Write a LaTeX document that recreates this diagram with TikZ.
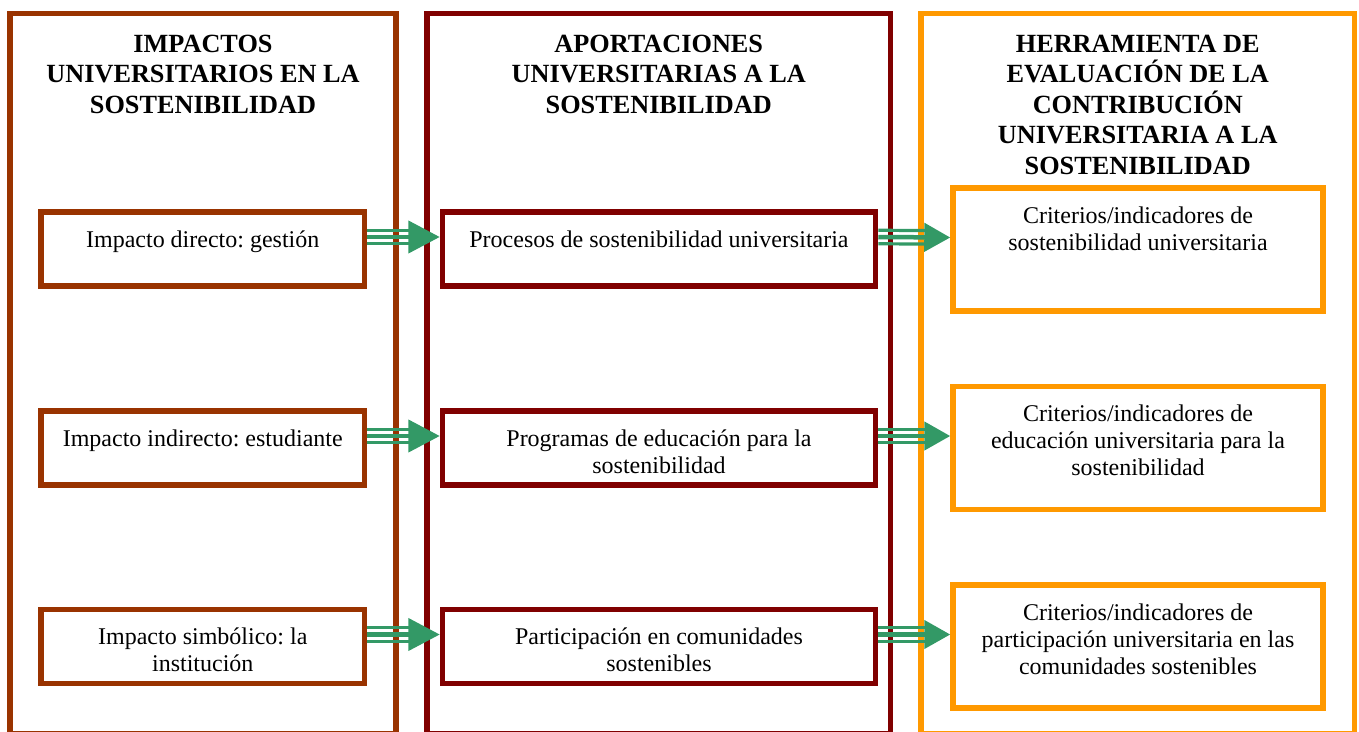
\documentclass[tikz,border=0pt]{standalone}
\usepackage{fontspec}
\setmainfont{Liberation Serif}
\frenchspacing
\usetikzlibrary{arrows.meta}

\definecolor{impacto}{HTML}{993300}
\definecolor{aporte}{HTML}{800000}
\definecolor{herram}{HTML}{FF9900}
\definecolor{verde}{HTML}{339966}

% text of a box, set from the top
\newcommand{\celda}[3]{\parbox[c][#1][t]{#2}{\centering\rule{0pt}{35pt}#3}}

\tikzset{
  marco/.style={line width=5.5pt},
  titulo/.style={anchor=north, inner sep=0pt, align=center,
    font=\bfseries\fontsize{26.25}{30.5}\selectfont},
  caja/.style={draw=#1, line width=5.5pt, inner sep=0pt,
    font=\fontsize{24}{27}\selectfont},
  flecha/.style 2 args={draw=verde, line width=4.5pt, -{Triangle[length=#1,width=#2]},
    preaction={draw=verde, -, line width=3.2pt, shorten >=#1-4pt, transform canvas={yshift=6.75pt}},
    preaction={draw=verde, -, line width=3.2pt, shorten >=#1-4pt, transform canvas={yshift=-6.75pt}}}
}

\begin{document}
\begin{tikzpicture}[x=1pt,y=-1pt]
	\useasboundingbox (0,0) rectangle (1359,731);
	\clip (0,0) rectangle (1359,731);

	% columnas
	\draw[marco, draw=impacto] (10,13.3) rectangle (396,734);
	\draw[marco, draw=aporte] (427,13.3) rectangle (890.5,734);
	\draw[marco, draw=herram] (921,13.3) rectangle (1354.5,734);

	\node[titulo] (t1) at (203,32) {\rule{0pt}{20pt}IMPACTOS\\UNIVERSITARIOS EN LA\\SOSTENIBILIDAD};
	\node[titulo] (t2) at (658.75,32) {\rule{0pt}{20pt}APORTACIONES\\UNIVERSITARIAS A LA\\SOSTENIBILIDAD};
	\node[titulo] (t3) at (1137.75,32) {\rule{0pt}{20pt}HERRAMIENTA DE\\EVALUACIÓN DE LA\\CONTRIBUCIÓN\\UNIVERSITARIA A LA\\SOSTENIBILIDAD};

	% impactos
	\node[caja=impacto] (i1) at (202.75,249) {\celda{74pt}{323.5pt}{Impacto directo: gestión}};
	\node[caja=impacto] (i2) at (202.75,448) {\celda{74pt}{323.5pt}{Impacto indirecto: estudiante}};
	\node[caja=impacto] (i3) at (202.75,646.5) {\celda{74pt}{323.5pt}{Impacto simbólico: la\\institución}};

	% aportaciones
	\node[caja=aporte] (a1) at (659,249) {\celda{74pt}{433pt}{Procesos de sostenibilidad universitaria}};
	\node[caja=aporte] (a2) at (659,448) {\celda{74pt}{433pt}{Programas de educación para la\\sostenibilidad}};
	\node[caja=aporte] (a3) at (659,646.5) {\celda{74pt}{433pt}{Participación en comunidades\\sostenibles}};

	% herramienta
	\node[caja=herram] (h1) at (1138,249.5) {\celda{123pt}{370pt}{Criterios/indicadores de\\sostenibilidad universitaria}};
	\node[caja=herram] (h2) at (1138,448) {\celda{123pt}{370pt}{Criterios/indicadores de\\educación universitaria para la\\sostenibilidad}};
	\node[caja=herram] (h3) at (1138,646.5) {\celda{123pt}{370pt}{Criterios/indicadores de\\participación universitaria en las\\comunidades sostenibles}};

	\foreach \n in {1,2,3} {
		\draw[flecha={31.5pt}{32pt}] ([yshift=12pt]i\n.east) -- ([yshift=12pt]a\n.west);
		\draw[flecha={26pt}{28pt}] ([yshift=12pt]a\n.east) -- ([yshift=12pt]h\n.west);
	}
\end{tikzpicture}
\end{document}
